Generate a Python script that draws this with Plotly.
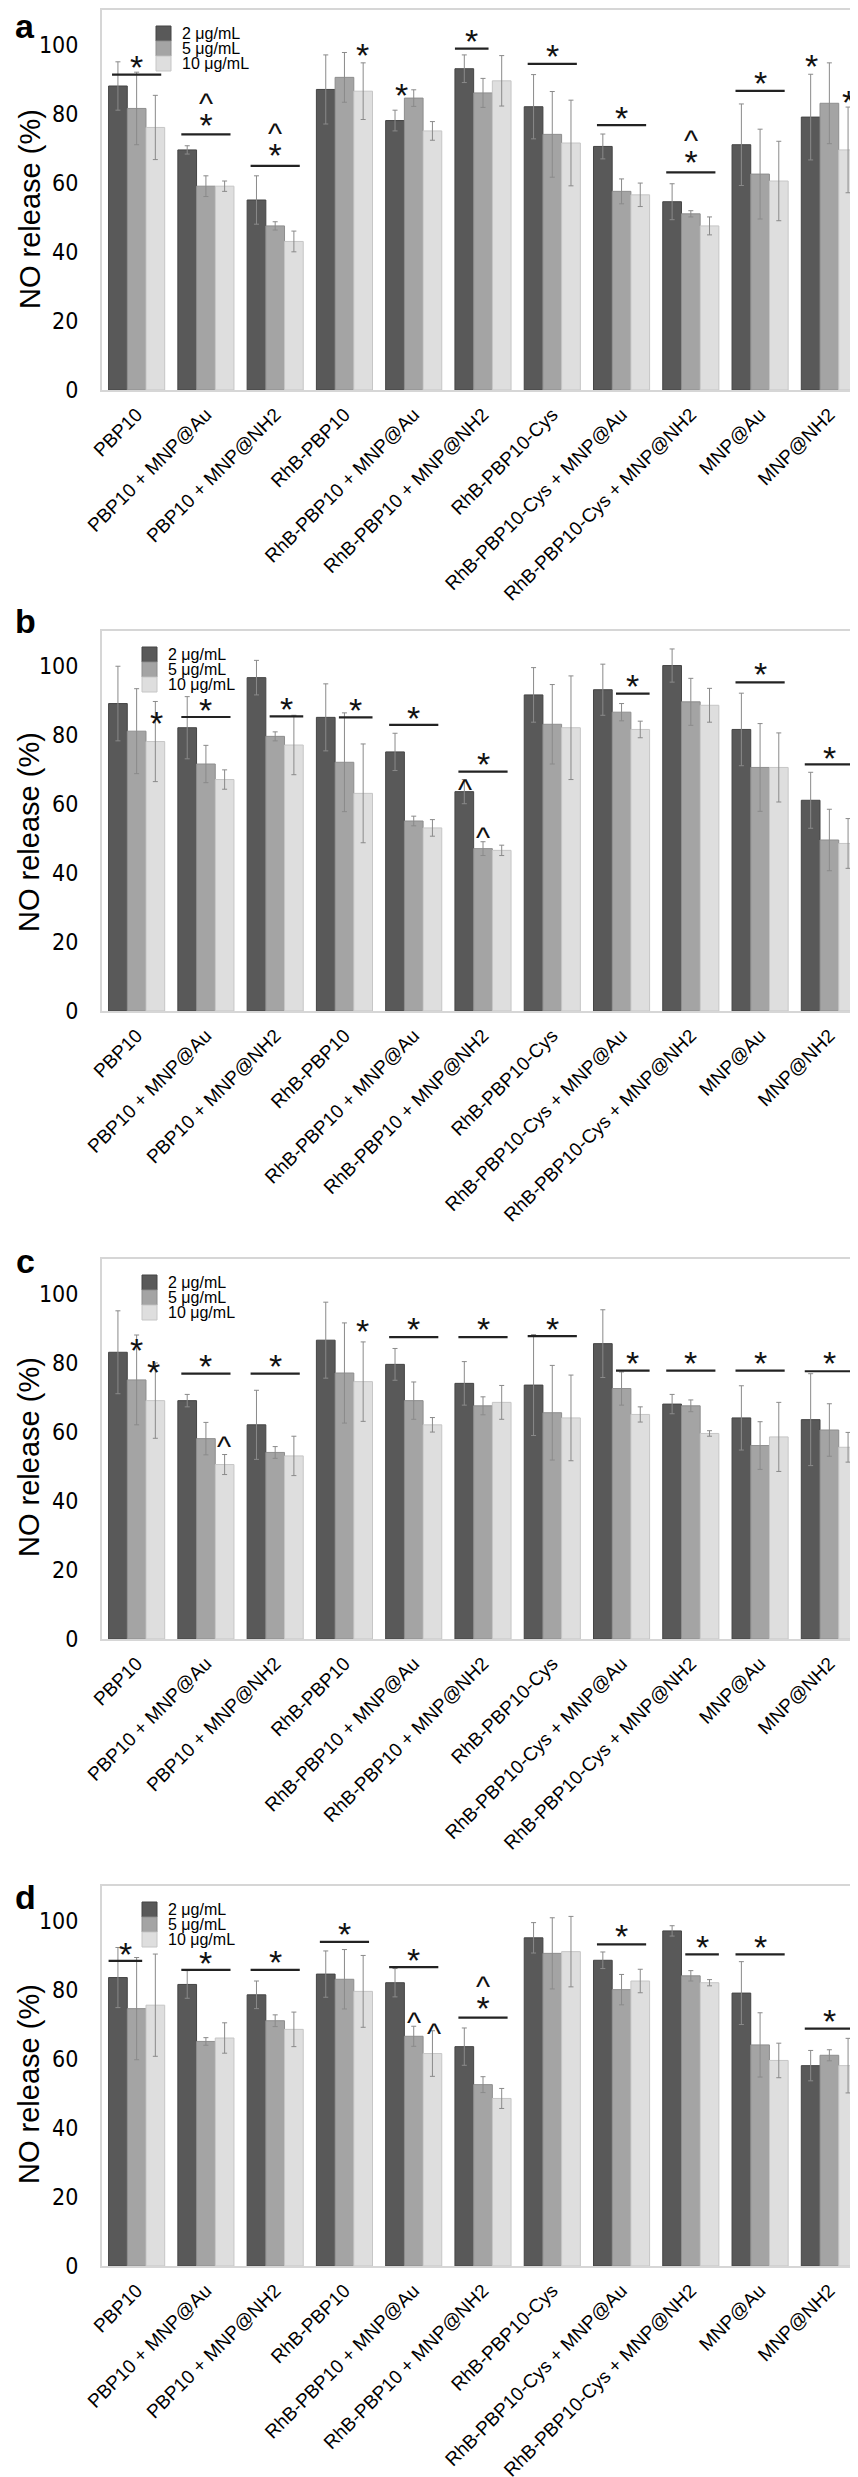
import plotly.graph_objects as go

categories = ["PBP10", "PBP10 + MNP@Au", "PBP10 + MNP@NH2", "RhB-PBP10",
              "RhB-PBP10 + MNP@Au", "RhB-PBP10 + MNP@NH2", "RhB-PBP10-Cys",
              "RhB-PBP10-Cys + MNP@Au", "RhB-PBP10-Cys + MNP@NH2", "MNP@Au", "MNP@NH2"]
concentrations = ["2 μg/mL", "5 μg/mL", "10 μg/mL"]
panel_letters = ["a", "b", "c", "d"]
y_title = "NO release (%)"
y_ticks = [0, 20, 40, 60, 80, 100]

# ---- panel a ----
a_2 = [88, 69.5, 55, 87, 78, 93, 82, 70.5, 54.5, 71, 79]
a_5 = [81.5, 59, 47.5, 90.5, 84.5, 86, 74, 57.5, 51, 62.5, 83]
a_10 = [76, 59, 43, 86.5, 75, 89.5, 71.5, 56.5, 47.5, 60.5, 69.5]
a_2_err = [7, 1.2, 7, 10, 3, 4, 9.3, 3.6, 5.2, 11.8, 12.4]
a_5_err = [10.5, 3, 1.2, 7.2, 2.4, 4.2, 12.4, 3.6, 0.9, 13, 11.7]
a_10_err = [9.3, 1.5, 3, 8.2, 2.7, 7.3, 12.4, 3.4, 2.6, 11.5, 12.4]

# ---- panel b ----
b_2 = [89, 82, 96.5, 85, 75, 63.5, 91.5, 93, 100, 81.5, 61]
b_5 = [81, 71.5, 79.5, 72, 55, 47, 83, 86.5, 89.5, 70.5, 49.5]
b_10 = [78, 67, 77, 63, 53, 46.5, 82, 81.5, 88.5, 70.5, 48.5]
b_2_err = [10.8, 9, 5, 9.7, 5.4, 3.5, 7.9, 7.4, 4.8, 10.5, 8.1]
b_5_err = [12.3, 5.4, 1.3, 14.3, 1.4, 2, 11.5, 2.5, 6.8, 12.7, 8.9]
b_10_err = [11.6, 2.8, 8.6, 14.3, 2.4, 1.5, 15, 2.4, 4.9, 10, 7.2]

# ---- panel c ----
c_2 = [83, 69, 62, 86.5, 79.5, 74, 73.5, 85.5, 68, 64, 63.5]
c_5 = [75, 58, 54, 77, 69, 67.5, 65.5, 72.5, 67.5, 56, 60.5]
c_10 = [69, 50.5, 53, 74.5, 62, 68.5, 64, 65, 59.5, 58.5, 55.5]
c_2_err = [12, 1.8, 10, 11, 4.6, 6.3, 14.6, 9.8, 2.8, 9.3, 13.3]
c_5_err = [13, 4.7, 1.7, 14.5, 5.4, 2.6, 13.7, 4.8, 1.7, 6.9, 7.6]
c_10_err = [10.9, 2.9, 5.7, 11.5, 2.1, 4.9, 12.4, 2.2, 0.8, 10, 4.3]

# ---- panel d ----
d_2 = [83.5, 81.5, 78.5, 84.5, 82, 63.5, 95, 88.5, 97, 79, 58]
d_5 = [74.5, 65, 71, 83, 66.5, 52.5, 90.5, 80, 84, 64, 61]
d_10 = [75.5, 66, 68.5, 79.5, 61.5, 48.5, 91, 82.5, 82, 59.5, 58]
d_2_err = [8.7, 4, 4, 6.7, 4.1, 5.4, 4.4, 2.4, 1.5, 9.1, 4.4]
d_5_err = [14.8, 1.1, 1.7, 8.6, 2.9, 2.3, 10.3, 4.4, 1.5, 9.3, 1.6]
d_10_err = [14.8, 4.4, 5, 10.4, 6.6, 2.9, 10.2, 3.4, 0.9, 5, 7.9]

# significance bars: (group, span, line y, star y, caret above star?)
a_lines = [(0, "all", 91.3, 95.6, False), (1, "all", 74, 78.3, True),
           (2, "all", 64.9, 69.4, True), (5, "dm", 98.8, 103, False),
           (6, "all", 94.4, 98.8, False), (7, "all", 76.7, 80.8, False),
           (8, "all", 63, 67.4, True), (9, "all", 86.6, 91, False)]
b_lines = [(1, "all", 85.1, 89.3, False), (2, "ml", 85.3, 89.5, False),
           (3, "ml", 85, 89.3, False), (4, "all", 82.8, 86.9, False),
           (5, "all", 69.3, 73.6, False), (7, "ml", 91.9, 96.1, False),
           (9, "all", 95.1, 99.5, False), (10, "all", 71.4, 75.2, False)]
c_lines = [(1, "all", 76.8, 81.1, False), (2, "all", 76.8, 81.1, False),
           (4, "all", 87.4, 91.7, False), (5, "all", 87.4, 91.7, False),
           (6, "all", 87.7, 91.9, False), (7, "ml", 77.7, 81.8, False),
           (8, "all", 77.7, 81.8, False), (9, "all", 77.7, 81.8, False),
           (10, "all", 77.5, 81.8, False)]
d_lines = [(0, "dm", 88.3, 92.3, False), (1, "all", 85.7, 89.7, False),
           (2, "all", 85.7, 89.9, False), (3, "all", 93.8, 98, False),
           (4, "all", 86.5, 90.7, False), (5, "all", 71.9, 76.1, True),
           (7, "all", 93.1, 97.5, False), (8, "ml", 90.2, 94.5, False),
           (9, "all", 90.2, 94.5, False), (10, "all", 68.7, 72.9, False)]
# lone stars / carets: (group, offset within group, y)
a_stars = [(3, 0.26, 99), (4, -0.18, 87.3), (10, -0.26, 95.9), (10, 0.27, 85.4)]
b_stars = [(0, 0.28, 85.4)]
c_stars = [(0, 0.0, 85.7), (0, 0.25, 79.3), (3, 0.26, 91.3)]
d_stars = []
a_carets = []
b_carets = [(5, -0.26, 65.8), (5, 0, 51.9)]
c_carets = [(1, 0.26, 57.5)]
d_carets = [(4, 0, 72.2), (4, 0.29, 69)]

spans = {"all": (-0.355, 0.355), "dm": (-0.405, 0.08), "ml": (-0.08, 0.405)}

panels = [
    ([a_2, a_5, a_10], [a_2_err, a_5_err, a_10_err], a_lines, a_stars, a_carets),
    ([b_2, b_5, b_10], [b_2_err, b_5_err, b_10_err], b_lines, b_stars, b_carets),
    ([c_2, c_5, c_10], [c_2_err, c_5_err, c_10_err], c_lines, c_stars, c_carets),
    ([d_2, d_5, d_10], [d_2_err, d_5_err, d_10_err], d_lines, d_stars, d_carets),
]

# ---- styling / layout geometry ----
W, H = 858, 2477
fills = ["#595959", "#a4a4a4", "#dedede"]
edges = ["#454545", "#8e8e8e", "#c6c6c6"]
PX_L, PX_R = 94, 856
bottoms = [382, 1003, 1631, 2258]
PH = 380
legend_left = [148, 134, 134, 134]
label_pos = [(17, 18), (17, 613), (17, 1253), (17, 1889)]
title_pos = [(22, 201), (21, 824), (21, 1449), (21, 2076)]
FONT = "Arial, Liberation Sans, sans-serif"
NARROW = "Liberation Sans Narrow, Arial Narrow, DejaVu Sans Condensed, sans-serif"
STAR_FONT = dict(family=FONT, size=34, color="#111111")
CARET_FONT = dict(family=FONT, size=30, color="#111111")

fig = go.Figure()
xs = list(range(len(categories)))
shapes, annots = [], []

for p, (vals, errs, lines, stars, carets) in enumerate(panels):
    n = "" if p == 0 else str(p + 1)
    xa, ya = "x" + n, "y" + n
    for s in range(3):
        fig.add_trace(go.Bar(
            x=xs, y=vals[s], name=concentrations[s], xaxis=xa, yaxis=ya,
            offsetgroup=str(s), showlegend=False,
            marker=dict(color=fills[s], line=dict(color=edges[s], width=1)),
            error_y=dict(type="data", array=errs[s], color="#8a8a8a",
                         thickness=1, width=2.5)))
    y_top = 1 - (bottoms[p] - PH) / H
    y_bot = 1 - bottoms[p] / H
    axis_common = dict(showline=True, mirror=True, linecolor="#d6d6d6",
                       linewidth=2, showgrid=False, zeroline=False, ticks="",
                       automargin=False)
    fig.update_layout(**{
        ("xaxis" + n): dict(domain=[PX_L / W, PX_R / W], anchor=ya,
                            range=[-0.5, 10.5], tickmode="array", tickvals=xs,
                            ticktext=categories, tickangle=-45,
                            tickfont=dict(family=FONT, size=19, color="black"),
                            ticklabelstandoff=4, **axis_common),
        ("yaxis" + n): dict(domain=[y_bot, y_top], anchor=xa, range=[0, 110],
                            tickmode="array", tickvals=y_ticks,
                            tickfont=dict(family=NARROW, size=23, color="black"),
                            ticklabelstandoff=17, **axis_common),
    })
    for g, span, yl, ys, caret in lines:
        x0, x1 = g + spans[span][0], g + spans[span][1]
        shapes.append(dict(type="line", xref=xa, yref=ya, x0=x0, x1=x1, y0=yl, y1=yl,
                           line=dict(color="#222222", width=2.2)))
        if caret:
            # caret stacked over the star as one two-line text
            annots.append(dict(xref=xa, yref=ya, x=(x0 + x1) / 2, y=ys,
                               text='<span style="font-size:30px">^</span><br>'
                                    '<span style="font-size:34px">*</span>',
                               showarrow=False, yanchor="bottom", yshift=-26,
                               font=dict(family=FONT, size=18, color="#111111")))
        else:
            annots.append(dict(xref=xa, yref=ya, x=(x0 + x1) / 2, y=ys, text="*",
                               showarrow=False, yshift=-7, font=STAR_FONT))
    for g, off, ys in stars:
        annots.append(dict(xref=xa, yref=ya, x=g + off, y=ys, text="*",
                           showarrow=False, yshift=-7, font=STAR_FONT))
    for g, off, ys in carets:
        annots.append(dict(xref=xa, yref=ya, x=g + off, y=ys, text="^",
                           showarrow=False, yshift=-6, font=CARET_FONT))
    # legend (swatches + labels)
    for s in range(3):
        top_off = 16 + 15 * s
        x0 = (legend_left[p] - PX_L) / (PX_R - PX_L)
        x1 = (legend_left[p] + 15 - PX_L) / (PX_R - PX_L)
        shapes.append(dict(type="rect", xref=xa + " domain", yref=ya + " domain",
                           x0=x0, x1=x1, y0=1 - (top_off + 15) / PH,
                           y1=1 - top_off / PH,
                           fillcolor=fills[s], line=dict(color=edges[s], width=1)))
        annots.append(dict(xref=xa + " domain", yref=ya + " domain",
                           x=(legend_left[p] + 24 - PX_L) / (PX_R - PX_L),
                           y=1 - (top_off + 7.5) / PH,
                           xanchor="left", yanchor="middle", showarrow=False,
                           text=concentrations[s],
                           font=dict(family=FONT, size=16, color="black")))
    # panel letter and y title
    lx, ly = label_pos[p]
    annots.append(dict(xref="paper", yref="paper", x=lx / W, y=1 - ly / H,
                       text="<b>" + panel_letters[p] + "</b>", showarrow=False,
                       xanchor="center", yanchor="middle",
                       font=dict(family=FONT, size=34, color="black")))
    tx, ty = title_pos[p]
    annots.append(dict(xref="paper", yref="paper", x=tx / W, y=1 - ty / H,
                       text=y_title, textangle=-90, showarrow=False,
                       xanchor="center", yanchor="middle",
                       font=dict(family=FONT, size=29, color="black")))

fig.update_layout(width=W, height=H, margin=dict(l=0, r=0, t=0, b=0, autoexpand=False),
                  barmode="group", bargap=0.19, bargroupgap=0,
                  plot_bgcolor="white", paper_bgcolor="white",
                  shapes=shapes, annotations=annots, showlegend=False)
fig.write_html("out.html")
